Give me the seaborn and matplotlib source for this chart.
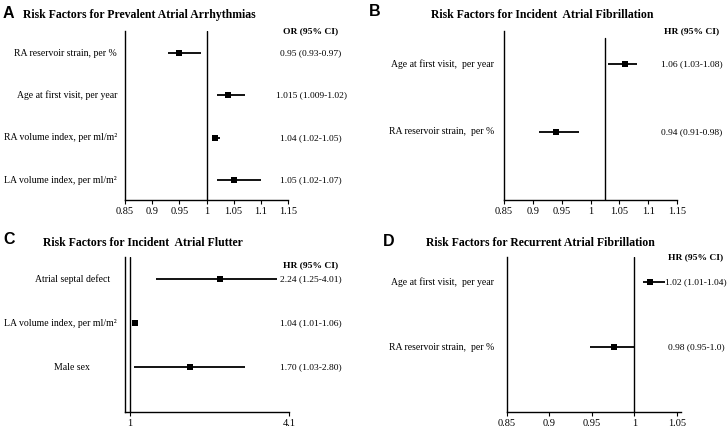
import matplotlib
matplotlib.use("Agg")
import matplotlib.pyplot as plt
import matplotlib.transforms as mtrans
import seaborn as sns
import pandas as pd

sns.set_theme(style="white")
plt.rcParams['font.family'] = ['Liberation Serif', 'DejaVu Serif']

# ---- Data ----
a_labels = ["RA reservoir strain, per %", "Age at first visit, per year",
            "RA volume index, per ml/m\u00b2", "LA volume index, per ml/m\u00b2"]
a_est = [0.95, 1.04, 1.015, 1.05]
a_lo = [0.93, 1.02, 1.01, 1.02]
a_hi = [0.99, 1.07, 1.025, 1.10]
a_text = ["0.95 (0.93-0.97)", "1.015 (1.009-1.02)", "1.04 (1.02-1.05)", "1.05 (1.02-1.07)"]
a_ticks = [0.85, 0.9, 0.95, 1, 1.05, 1.1, 1.15]
a_ticklabels = ["0.85", "0.9", "0.95", "1", "1.05", "1.1", "1.15"]

b_labels = ["Age at first visit,  per year", "RA reservoir strain,  per %"]
b_est = [1.06, 0.94]
b_lo = [1.03, 0.91]
b_hi = [1.08, 0.98]
b_text = ["1.06 (1.03-1.08)", "0.94 (0.91-0.98)"]
b_ticks = [0.85, 0.9, 0.95, 1, 1.05, 1.1, 1.15]
b_ticklabels = ["0.85", "0.9", "0.95", "1", "1.05", "1.1", "1.15"]

c_labels = ["Atrial septal defect", "LA volume index, per ml/m\u00b2", "Male sex"]
c_est = [2.75, 1.10, 2.16]
c_lo = [1.51, 1.05, 1.08]
c_hi = [3.86, 1.13, 3.24]
c_text = ["2.24 (1.25-4.01)", "1.04 (1.01-1.06)", "1.70 (1.03-2.80)"]
c_ticks = [1, 4.1]
c_ticklabels = ["1", "4.1"]

d_labels = ["Age at first visit,  per year", "RA reservoir strain,  per %"]
d_est = [1.019, 0.976]
d_lo = [1.01, 0.948]
d_hi = [1.036, 1.0]
d_text = ["1.02 (1.01-1.04)", "0.98 (0.95-1.0)"]
d_ticks = [0.85, 0.9, 0.95, 1, 1.05]
d_ticklabels = ["0.85", "0.9", "0.95", "1", "1.05"]

W, H = 728, 430
fig = plt.figure(figsize=(W / 100, H / 100), dpi=100)


def px_axes(l, r, t, b):
    return fig.add_axes([l / W, (H - b) / H, (r - l) / W, (b - t) / H])


def fx(x):
    return x / W


def fy(y):
    return (H - y) / H


def panel(l, r, t, b, xlim, ylim, labels, est, lo, hi, texts, ticks, ticklabels,
          refx, label_x, label_ha, val_x, head_text, head_y, letter, letter_xy,
          title, title_xy, ref_top=None, msize=16):
    ax = px_axes(l, r, t, b)
    rows = list(range(len(labels)))
    df = pd.DataFrame({"est": est, "row": rows})
    ax.hlines(rows, lo, hi, color="black", lw=1.3, zorder=2)
    sns.scatterplot(data=df, x="est", y="row", marker="s", color="black",
                    s=msize, edgecolor="black", linewidth=0, ax=ax, zorder=3)
    ax.set_xlim(*xlim)
    ax.set_ylim(*ylim)
    if ref_top is None:
        ax.axvline(refx, color="black", lw=1.0, zorder=1)
    else:
        ax.axvline(refx, ymax=ref_top, color="black", lw=1.0, zorder=1)
    ax.set_xticks(ticks)
    ax.set_xticklabels(ticklabels, fontsize=7.5)
    ax.set_yticks([])
    ax.set_xlabel("")
    ax.set_ylabel("")
    ax.tick_params(axis="x", direction="out", length=3, width=0.8, pad=2,
                   bottom=True, colors="black")
    for s in ["top", "right"]:
        ax.spines[s].set_visible(False)
    for s in ["left", "bottom"]:
        ax.spines[s].set_color("black")
        ax.spines[s].set_linewidth(1.0)
    tr = mtrans.blended_transform_factory(fig.transFigure, ax.transData)
    if not isinstance(label_x, (list, tuple)):
        label_x = [label_x] * len(labels)
    for i, lab in enumerate(labels):
        ax.text(fx(label_x[i]), i, lab, transform=tr, ha=label_ha, va="center",
                fontsize=7, color="black")
    for i, tx in enumerate(texts):
        ax.text(fx(val_x), i, tx, transform=tr, ha="center", va="center",
                fontsize=6.8, color="black")
    fig.text(fx(val_x), fy(head_y), head_text, ha="center", va="center",
             fontsize=6.8, fontweight="bold", color="black")
    fig.text(fx(letter_xy[0]), fy(letter_xy[1]), letter, ha="left", va="center",
             fontsize=11.5, fontweight="bold", family=["Liberation Sans", "DejaVu Sans"],
             color="black")
    fig.text(fx(title_xy[0]), fy(title_xy[1]), title, ha="left", va="center",
             fontsize=8.5, fontweight="bold", color="black")
    return ax


panel(125, 288, 31, 200, (0.85, 1.15), (3.47, -0.52), a_labels, a_est, a_lo, a_hi,
      a_text, a_ticks, a_ticklabels, 1.0, 117, "right", 311, "OR (95% CI)", 31,
      "A", (3, 14), "Risk Factors for Prevalent Atrial Arrhythmias", (23, 15))

panel(504, 677, 31, 200, (0.85, 1.15), (2.0, -0.485), b_labels, b_est, b_lo, b_hi,
      b_text, b_ticks, b_ticklabels, 1.025, 494, "right", 692, "HR (95% CI)", 31,
      "B", (369, 11), "Risk Factors for Incident  Atrial Fibrillation", (431, 15),
      ref_top=0.96, msize=20)

panel(125, 289, 257, 412, (0.9, 4.1), (3.02, -0.5), c_labels, c_est, c_lo, c_hi,
      c_text, c_ticks, c_ticklabels, 1.0, [73, 60, 72], "center", 311, "HR (95% CI)", 265,
      "C", (3, 240), "Risk Factors for Incident  Atrial Flutter", (43, 243))

panel(507, 681, 257, 412, (0.85, 1.055), (2.0, -0.385), d_labels, d_est, d_lo, d_hi,
      d_text, d_ticks, d_ticklabels, 1.0, 494, "right", 696, "HR (95% CI)", 257,
      "D", (383, 242), "Risk Factors for Recurrent Atrial Fibrillation", (426, 243))

fig.savefig("out.png", dpi=100, facecolor="white")
